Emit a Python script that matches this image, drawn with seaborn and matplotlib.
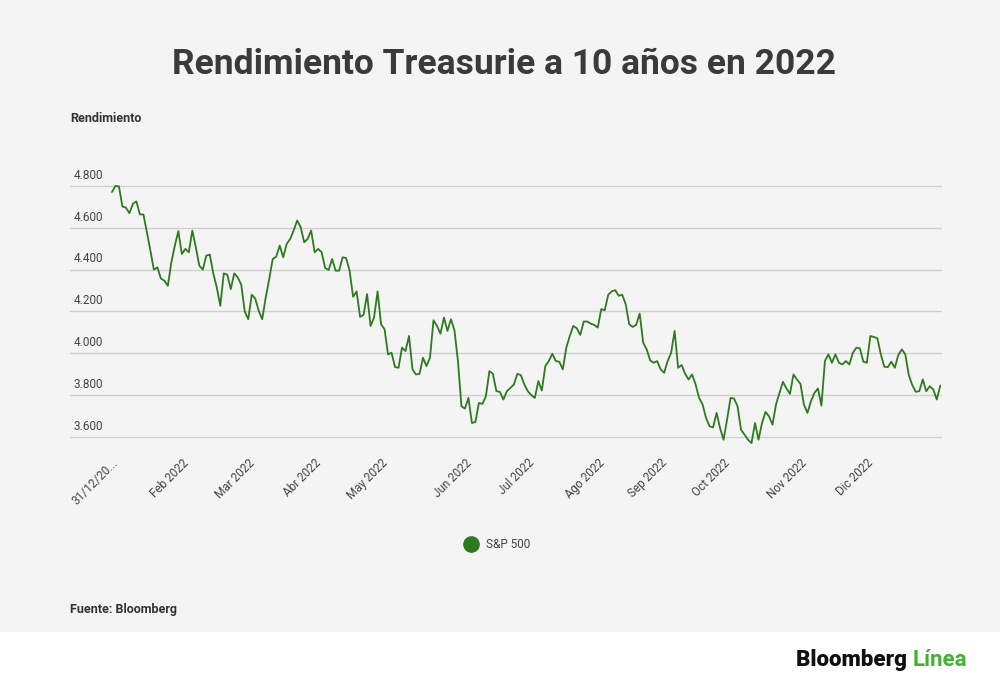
import matplotlib
matplotlib.use("Agg")
import matplotlib.pyplot as plt
import seaborn as sns
import pandas as pd

values = [4.771,4.800,4.798,4.702,4.696,4.670,4.715,4.726,4.664,4.664,4.579,4.491,4.400,4.411,4.358,4.347,4.323,4.435,4.515,4.584,
4.475,4.499,4.483,4.587,4.507,4.419,4.400,4.467,4.472,4.382,4.315,4.227,4.382,4.376,4.307,4.382,4.363,4.328,4.200,4.163,
4.280,4.262,4.203,4.163,4.267,4.355,4.451,4.462,4.515,4.459,4.523,4.547,4.587,4.635,4.603,4.531,4.547,4.587,4.483,4.499,
4.483,4.408,4.398,4.451,4.395,4.395,4.459,4.456,4.395,4.270,4.296,4.174,4.184,4.283,
4.131,4.171,4.296,4.139,4.115,3.995,4.003,3.934,3.931,4.027,4.011,4.083,3.923,3.899,3.902,3.979,3.939,3.979,4.158,4.131,
4.094,4.171,4.107,4.163,4.110,3.963,3.747,3.736,3.787,3.667,3.672,3.763,3.758,3.795,3.915,3.902,3.819,3.816,3.779,3.819,
3.835,3.851,3.902,3.896,3.851,3.819,3.800,3.787,3.867,3.822,3.939,3.963,3.998,3.963,3.960,3.923,4.027,4.083,4.131,4.120,
4.088,4.152,4.152,4.142,4.136,4.123,4.211,4.206,4.280,4.296,4.302,4.275,4.280,4.235,4.139,4.126,4.136,4.190,4.051,4.019,
3.966,3.955,3.963,3.923,3.907,3.963,4.003,4.107,3.931,3.944,3.902,3.875,3.899,3.851,3.787,3.755,3.691,3.651,3.646,3.715,
3.643,3.587,3.683,3.787,3.784,3.747,3.635,3.611,3.587,3.571,3.667,3.587,3.667,3.720,3.699,3.659,3.755,3.811,3.864,3.832,
3.806,3.899,3.875,3.854,3.755,3.715,3.771,3.811,3.832,3.750,3.963,3.995,3.955,3.995,3.955,3.947,3.963,3.947,4.003,4.027,
4.024,3.960,3.955,4.083,4.078,4.072,3.995,3.936,3.934,3.960,3.931,3.992,4.019,3.995,3.896,3.848,3.816,3.819,3.875,3.819,
3.843,3.827,3.779,3.846]
tick_labels = ["31/12/20...","Feb 2022","Mar 2022","Abr 2022","May 2022","Jun 2022","Jul 2022",
               "Ago 2022","Sep 2022","Oct 2022","Nov 2022","Dic 2022"]
tick_index = [0,20,39,58,77,101,119,139,157,175,197,216]
y_ticks = [3.6,3.8,4.0,4.2,4.4,4.6,4.8]
y_labels = ["3.600","3.800","4.000","4.200","4.400","4.600","4.800"]

df = pd.DataFrame({"i": range(len(values)), "v": values})

sns.set_theme(style="white")
plt.rcParams['font.family'] = ['Roboto', 'DejaVu Sans']
bg = "#f4f4f4"
green = "#2e7a1f"
fig = plt.figure(figsize=(10, 6.87), dpi=100)
fig.patch.set_facecolor("white")
fig.patches.append(plt.Rectangle((0, 1-632/687), 1, 632/687, transform=fig.transFigure,
                                 facecolor=bg, edgecolor="none", zorder=-10))
ax = fig.add_axes([0.07, 0.3517, 0.872, 0.3898])
ax.set_facecolor(bg)
sns.lineplot(data=df, x="i", y="v", ax=ax, color=green, linewidth=1.3)
ax.set_xlim(-12, 237.5)
ax.set_ylim(3.56, 4.84)
for s in ax.spines.values():
    s.set_visible(False)
ax.set_yticks(y_ticks)
ax.set_yticklabels([])
ax.tick_params(axis="y", length=0)
ax.grid(axis="y", color="#d0d0d0", linewidth=1)
for t, l in zip(y_ticks, y_labels):
    ax.text(0.004, t + 0.02, l, transform=ax.get_yaxis_transform(), ha="left", va="bottom",
            fontsize=8.5, color="#444444")
ax.set_xticks(tick_index)
ax.set_xticklabels(tick_labels, rotation=45, ha="right", rotation_mode="anchor",
                   fontsize=8.5, color="#444444")
ax.tick_params(axis="x", length=0, pad=8)
ax.set_xlabel("")
ax.set_ylabel("")

fig.text(0.504, 1-64/687, "Rendimiento Treasurie a 10 años en 2022", ha="center", va="center",
         fontsize=25.5, fontweight="bold", color="#3a3a3a")
fig.text(0.07, 1-118/687, "Rendimiento", ha="left", va="center", fontsize=9, fontweight="bold", color="#333333")
fig.text(0.07, 1-610/687, "Fuente: Bloomberg", ha="left", va="center", fontsize=9, fontweight="bold", color="#333333")
fig.lines.append(plt.Line2D([0.471], [1-544/687], transform=fig.transFigure, marker="o",
                            markersize=11, color=green, linestyle="none"))
fig.text(0.486, 1-544/687, "S&P 500", ha="left", va="center", fontsize=8.5, color="#444444")
fig.text(0.913, 1-660/687, "Bloomberg ", ha="right", va="center", fontsize=16, fontweight="black", color="#111111")
fig.text(0.913, 1-660/687, "Línea", ha="left", va="center", fontsize=16, fontweight="bold", color="#45b034")

fig.savefig("out.png", dpi=100, facecolor=fig.get_facecolor())
